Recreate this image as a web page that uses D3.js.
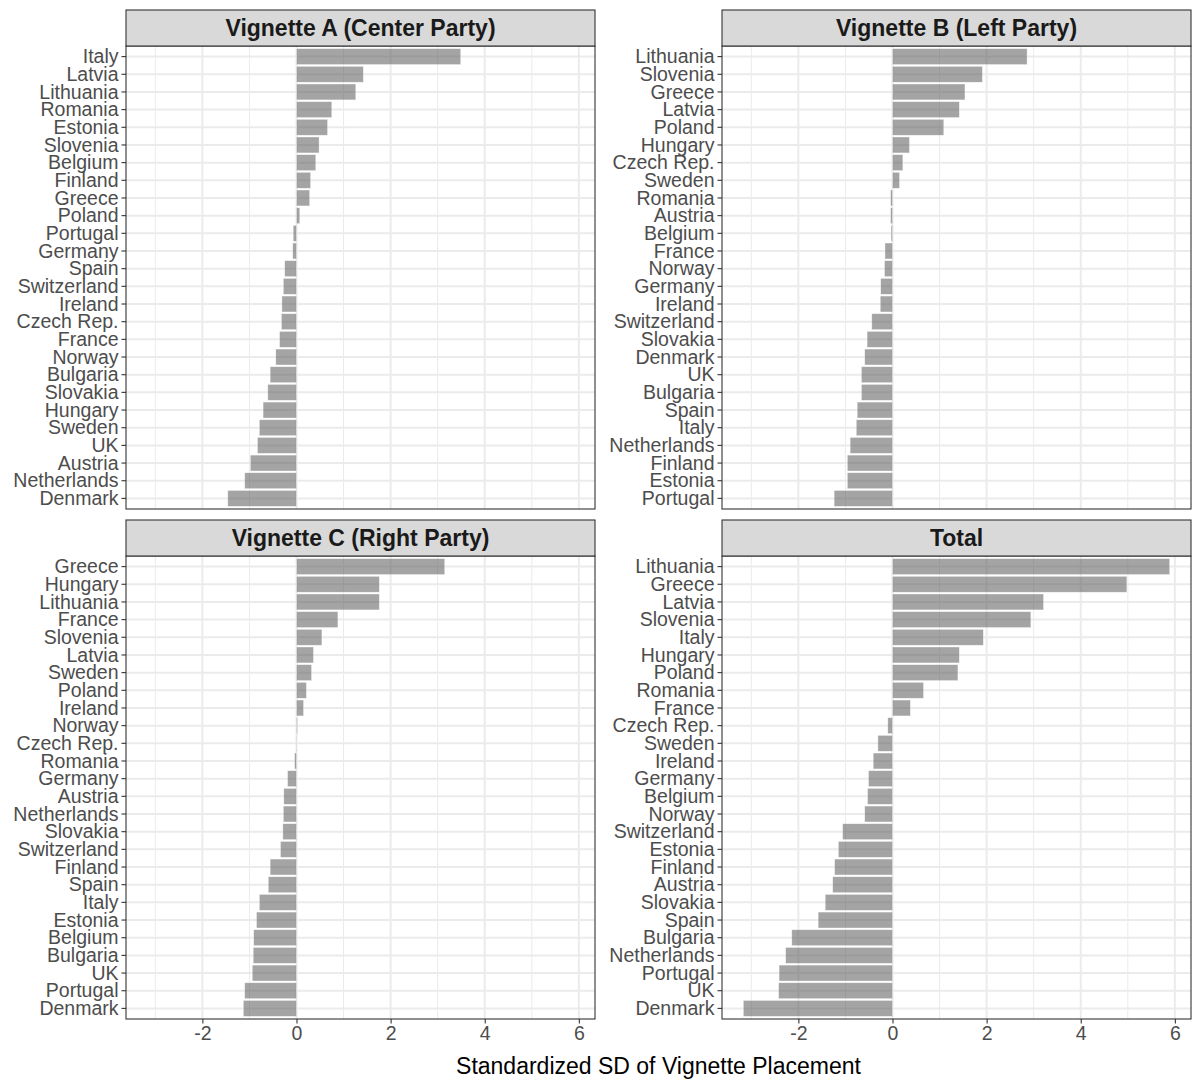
<!DOCTYPE html>
<html>
<head>
<meta charset="utf-8">
<script src="https://cdn.jsdelivr.net/npm/d3@7"></script>
<style>
  body { margin: 0; background: #fff; }
  text { font-family: "Liberation Sans", Arial, sans-serif; }
</style>
</head>
<body>
<div id="chart"></div>
<script>
// panel titles
var panelTitles = ["Vignette A (Center Party)", "Vignette B (Left Party)", "Vignette C (Right Party)", "Total"];

// Vignette A (top to bottom)
var countriesA = ["Italy", "Latvia", "Lithuania", "Romania", "Estonia", "Slovenia", "Belgium", "Finland", "Greece", "Poland", "Portugal", "Germany", "Spain", "Switzerland", "Ireland", "Czech Rep.", "France", "Norway", "Bulgaria", "Slovakia", "Hungary", "Sweden", "UK", "Austria", "Netherlands", "Denmark"];
var valuesA = [3.49, 1.42, 1.26, 0.75, 0.66, 0.48, 0.41, 0.30, 0.28, 0.07, -0.07, -0.08, -0.25, -0.28, -0.31, -0.32, -0.36, -0.44, -0.56, -0.61, -0.71, -0.79, -0.83, -0.98, -1.10, -1.46];

// Vignette B
var countriesB = ["Lithuania", "Slovenia", "Greece", "Latvia", "Poland", "Hungary", "Czech Rep.", "Sweden", "Romania", "Austria", "Belgium", "France", "Norway", "Germany", "Ireland", "Switzerland", "Slovakia", "Denmark", "UK", "Bulgaria", "Spain", "Italy", "Netherlands", "Finland", "Estonia", "Portugal"];
var valuesB = [2.86, 1.91, 1.54, 1.42, 1.09, 0.36, 0.22, 0.15, -0.04, -0.04, -0.03, -0.16, -0.17, -0.25, -0.26, -0.44, -0.54, -0.59, -0.66, -0.66, -0.75, -0.77, -0.90, -0.96, -0.96, -1.24];

// Vignette C
var countriesC = ["Greece", "Hungary", "Lithuania", "France", "Slovenia", "Latvia", "Sweden", "Poland", "Ireland", "Norway", "Czech Rep.", "Romania", "Germany", "Austria", "Netherlands", "Slovakia", "Switzerland", "Finland", "Spain", "Italy", "Estonia", "Belgium", "Bulgaria", "UK", "Portugal", "Denmark"];
var valuesC = [3.15, 1.76, 1.76, 0.88, 0.54, 0.36, 0.32, 0.21, 0.15, 0.02, 0.01, -0.04, -0.19, -0.27, -0.28, -0.29, -0.34, -0.56, -0.60, -0.79, -0.85, -0.91, -0.92, -0.94, -1.10, -1.13];

// Total
var countriesT = ["Lithuania", "Greece", "Latvia", "Slovenia", "Italy", "Hungary", "Poland", "Romania", "France", "Czech Rep.", "Sweden", "Ireland", "Germany", "Belgium", "Norway", "Switzerland", "Estonia", "Finland", "Austria", "Slovakia", "Spain", "Bulgaria", "Netherlands", "Portugal", "UK", "Denmark"];
var valuesT = [5.89, 4.98, 3.21, 2.94, 1.93, 1.42, 1.39, 0.66, 0.38, -0.10, -0.31, -0.41, -0.51, -0.53, -0.59, -1.06, -1.15, -1.23, -1.27, -1.43, -1.58, -2.14, -2.27, -2.41, -2.42, -3.17];

var xTicks = [-2, 0, 2, 4, 6];
var xMinor = [-3, -1, 1, 3, 5];
var xTitle = "Standardized SD of Vignette Placement";

var panels = [
  { title: panelTitles[0], countries: countriesA, values: valuesA, col: 0, row: 0 },
  { title: panelTitles[1], countries: countriesB, values: valuesB, col: 1, row: 0 },
  { title: panelTitles[2], countries: countriesC, values: valuesC, col: 0, row: 1 },
  { title: panelTitles[3], countries: countriesT, values: valuesT, col: 1, row: 1 }
];

var W = 1192, H = 1082;
var panelW = 469, panelH = 463, stripH = 36;
var colX = [126, 722];
var rowY = [10, 520];
var labelSize = "19.5px";

var svg = d3.select("#chart").append("svg")
  .attr("width", W)
  .attr("height", H);

// shared x scale, ggplot-like 5% expansion
var allVals = valuesA.concat(valuesB, valuesC, valuesT);
var lo = d3.min(allVals), hi = d3.max(allVals), pad = (hi - lo) * 0.05;
var x = d3.scaleLinear().domain([lo - pad, hi + pad]).range([0, panelW]);

panels.forEach(function (p) {
  var g = svg.append("g")
    .attr("transform", "translate(" + colX[p.col] + "," + (rowY[p.row] + stripH) + ")");

  var y = d3.scaleBand()
    .domain(p.countries)
    .range([0, panelH])
    .paddingInner(0.1)
    .paddingOuter(0.15);

  // minor grid
  g.selectAll(".minor").data(xMinor).enter().append("line")
    .attr("x1", function (d) { return x(d); })
    .attr("x2", function (d) { return x(d); })
    .attr("y1", 0).attr("y2", panelH)
    .attr("stroke", "#ebebeb").attr("stroke-width", 1);

  // major grid
  g.selectAll(".majorx").data(xTicks).enter().append("line")
    .attr("x1", function (d) { return x(d); })
    .attr("x2", function (d) { return x(d); })
    .attr("y1", 0).attr("y2", panelH)
    .attr("stroke", "#ebebeb").attr("stroke-width", 2);

  g.selectAll(".majory").data(p.countries).enter().append("line")
    .attr("x1", 0).attr("x2", panelW)
    .attr("y1", function (d) { return y(d) + y.bandwidth() / 2; })
    .attr("y2", function (d) { return y(d) + y.bandwidth() / 2; })
    .attr("stroke", "#ebebeb").attr("stroke-width", 2);

  // bars
  g.selectAll(".bar").data(p.values).enter().append("rect")
    .attr("x", function (d) { return x(Math.min(0, d)); })
    .attr("width", function (d) { return Math.abs(x(d) - x(0)); })
    .attr("y", function (d, i) { return y(p.countries[i]); })
    .attr("height", y.bandwidth())
    .attr("fill", "#595959")
    .attr("fill-opacity", 0.55)
    .attr("stroke", "#ffffff")
    .attr("stroke-opacity", 0.6)
    .attr("stroke-width", 0.6);

  // y axis
  var yAxis = g.append("g")
    .call(d3.axisLeft(y).tickSize(4.5).tickPadding(3));
  yAxis.select(".domain").remove();
  yAxis.selectAll(".tick line").attr("stroke", "#333333").attr("stroke-width", 1.1);
  yAxis.selectAll(".tick text")
    .attr("fill", "#4d4d4d")
    .style("font-size", labelSize)
    .attr("dy", "0.34em");

  // x axis only on bottom row
  if (p.row === 1) {
    var xAxis = g.append("g")
      .attr("transform", "translate(0," + panelH + ")")
      .call(d3.axisBottom(x).tickValues(xTicks).tickSize(4.5).tickPadding(3)
        .tickFormat(function (d) { return String(d); }));
    xAxis.select(".domain").remove();
    xAxis.selectAll(".tick line").attr("stroke", "#333333").attr("stroke-width", 1.1);
    xAxis.selectAll(".tick text")
      .attr("fill", "#4d4d4d")
      .style("font-size", labelSize);
  }

  // panel border
  g.append("rect")
    .attr("x", 0).attr("y", 0)
    .attr("width", panelW).attr("height", panelH)
    .attr("fill", "none")
    .attr("stroke", "#333333")
    .attr("stroke-width", 1.1);

  // strip
  var s = svg.append("g")
    .attr("transform", "translate(" + colX[p.col] + "," + rowY[p.row] + ")");
  s.append("rect")
    .attr("width", panelW).attr("height", stripH)
    .attr("fill", "#d9d9d9")
    .attr("stroke", "#333333")
    .attr("stroke-width", 1.1);
  s.append("text")
    .attr("x", panelW / 2)
    .attr("y", stripH / 2)
    .attr("dy", "0.36em")
    .attr("text-anchor", "middle")
    .style("font-size", "23px")
    .style("font-weight", "bold")
    .attr("fill", "#1a1a1a")
    .text(p.title);
});

// x axis title
svg.append("text")
  .attr("x", (colX[0] + colX[1] + panelW) / 2)
  .attr("y", 1066)
  .attr("dy", "0.36em")
  .attr("text-anchor", "middle")
  .style("font-size", "23px")
  .attr("fill", "#000")
  .text(xTitle);
</script>
</body>
</html>
